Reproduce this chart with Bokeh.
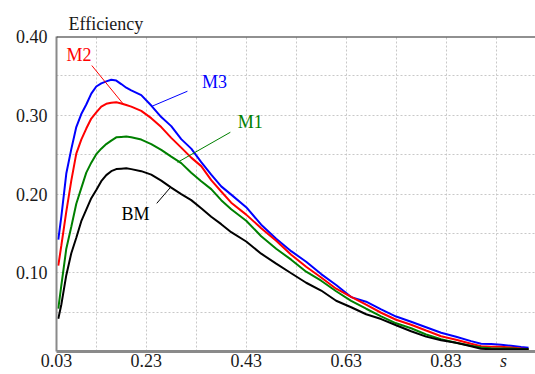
from bokeh.plotting import figure
from bokeh.models import Range1d, FixedTicker, Span, Label, LinearAxis
from bokeh.embed import file_html
from bokeh.resources import INLINE

# slip values shared by all four efficiency curves
s = [0.054, 0.06, 0.07, 0.08, 0.09, 0.10, 0.11, 0.12, 0.13, 0.14, 0.15, 0.16,
     0.17, 0.18, 0.19, 0.20, 0.22, 0.24, 0.26, 0.28, 0.30, 0.32, 0.34, 0.36,
     0.38, 0.40, 0.43, 0.46, 0.49, 0.52, 0.55, 0.58, 0.61, 0.64, 0.67, 0.70,
     0.73, 0.76, 0.79, 0.82, 0.85, 0.88, 0.90, 0.92, 0.94, 0.96, 0.98, 0.995]

eff_m3 = [0.142, 0.171, 0.226, 0.257, 0.285, 0.3015, 0.3136, 0.3275, 0.3365, 0.3405,
          0.343, 0.345, 0.344, 0.3396, 0.335, 0.3316, 0.3256, 0.3123, 0.2977, 0.2862,
          0.2697, 0.2576, 0.2405, 0.2246, 0.2097, 0.1992, 0.1833, 0.161, 0.1432, 0.1274,
          0.114, 0.0983, 0.0845, 0.0691, 0.0632, 0.0534, 0.0444, 0.0378, 0.0308, 0.0238,
          0.0187, 0.0132, 0.0098, 0.0094, 0.0085, 0.0072, 0.0057, 0.0047]

eff_m2 = [0.109, 0.1343, 0.1776, 0.217, 0.2513, 0.2691, 0.2831, 0.2958, 0.3036, 0.311,
          0.3145, 0.3159, 0.3165, 0.315, 0.313, 0.311, 0.3056, 0.2963, 0.285, 0.2713,
          0.2589, 0.2462, 0.2354, 0.2176, 0.2032, 0.189, 0.1738, 0.1566, 0.1407, 0.1229,
          0.1077, 0.0939, 0.0797, 0.0695, 0.0594, 0.0492, 0.0403, 0.0339, 0.0266, 0.0194,
          0.0149, 0.0098, 0.0066, 0.006, 0.006, 0.0051, 0.0037, 0.003]

eff_m1 = [0.0543, 0.0835, 0.1305, 0.1585, 0.1877, 0.2074, 0.2271, 0.2398, 0.2506, 0.2576,
          0.2634, 0.2678, 0.272, 0.2725, 0.2729, 0.2721, 0.2691, 0.2634, 0.2561, 0.2475,
          0.2392, 0.2271, 0.2163, 0.2062, 0.1922, 0.1807, 0.1661, 0.1464, 0.1305, 0.1166,
          0.1013, 0.0899, 0.0765, 0.0644, 0.0543, 0.0447, 0.0358, 0.0295, 0.0216, 0.0156,
          0.0111, 0.0072, 0.0052, 0.0042, 0.0039, 0.0037, 0.0033, 0.003]

eff_bm = [0.0416, 0.0594, 0.0969, 0.1248, 0.1445, 0.1655, 0.1801, 0.1947, 0.2051, 0.2163,
          0.224, 0.229, 0.2316, 0.2322, 0.2326, 0.2316, 0.229, 0.2246, 0.217, 0.2081,
          0.1998, 0.1922, 0.182, 0.1712, 0.1617, 0.1515, 0.1397, 0.1242, 0.1115, 0.0994,
          0.0873, 0.0774, 0.0644, 0.0562, 0.0473, 0.0412, 0.0333, 0.0257, 0.0189, 0.0142,
          0.0111, 0.0066, 0.0034, 0.003, 0.003, 0.003, 0.003, 0.003]

series_names = ["M3", "M2", "M1", "BM"]
series_colors = ["#0000ff", "#ff0000", "#008000", "#000000"]

# curve labels: text position, then leader line start and end
label_pos = [(0.3668, 0.3419), (0.0953, 0.3771), (0.4379, 0.2911), (0.2084, 0.1746)]
leader_from = [(0.3124, 0.3305), (0.1211, 0.3631), (0.3983, 0.2784), (0.2510, 0.1881)]
leader_to = [(0.2399, 0.3110), (0.1837, 0.3145), (0.2926, 0.2402), (0.2775, 0.2077)]

x_ticks = [0.0504, 0.23, 0.43, 0.63, 0.83]
x_tick_labels = ["0.03", "0.23", "0.43", "0.63", "0.83"]
x_symbol_pos = 0.9449
x_grid = [0.13, 0.23, 0.33, 0.43, 0.53, 0.63, 0.73, 0.83, 0.93]
y_ticks = [0.10, 0.20, 0.30, 0.40]
y_tick_labels = ["0.10", "0.20", "0.30", "0.40"]
y_grid = [0.05, 0.10, 0.15, 0.20, 0.25, 0.30, 0.35]

FONT = "Liberation Serif"

p = figure(width=535, height=374, output_backend="svg", toolbar_location=None,
           x_range=Range1d(0.0504, 1.0089), y_range=Range1d(0.0, 0.4),
           min_border_left=56, min_border_right=0, min_border_top=36,
           min_border_bottom=23, title="Efficiency")
p.outline_line_color = None
p.background_fill_color = "white"
p.border_fill_color = "white"

# y-axis title drawn as the plot title, left-aligned over the axis
p.title.align = "left"
p.title.offset = 12
p.title.standoff = 6
p.title.text_font = FONT
p.title.text_font_size = "18px"
p.title.text_font_style = "normal"
p.title.text_color = "#1a1a1a"

# grid
p.xgrid.ticker = FixedTicker(ticks=x_grid)
p.ygrid.ticker = FixedTicker(ticks=y_grid)
for g in (p.xgrid, p.ygrid):
    g.grid_line_color = "#c8c8c8"
    g.grid_line_dash = "2 2"
    g.grid_line_width = 1

# axes
p.xaxis.ticker = FixedTicker(ticks=x_ticks)
p.xaxis.major_label_overrides = dict(zip(x_ticks, x_tick_labels))
p.yaxis.ticker = FixedTicker(ticks=y_ticks)
p.yaxis.major_label_overrides = dict(zip(y_ticks, y_tick_labels))
for ax in (p.xaxis, p.yaxis):
    ax.major_tick_line_color = None
    ax.minor_tick_line_color = None
    ax.major_tick_out = 0
    ax.major_tick_in = 0
    ax.axis_line_color = "#8a8a8a"
    ax.major_label_text_font = FONT
    ax.major_label_text_font_size = "18px"
    ax.major_label_text_color = "#1a1a1a"
p.xaxis.axis_line_width = 3
p.yaxis.axis_line_width = 2
p.xaxis.major_label_standoff = 2
p.yaxis.major_label_standoff = 9

# italic axis symbol "s" tucked under the right end of the x axis
sym_axis = LinearAxis(ticker=FixedTicker(ticks=[x_symbol_pos]),
                      major_label_overrides={x_symbol_pos: "s"},
                      axis_line_color=None, major_tick_line_color=None,
                      minor_tick_line_color=None, major_tick_out=0, major_tick_in=0,
                      major_label_standoff=-19,
                      major_label_text_font=FONT, major_label_text_font_style="italic",
                      major_label_text_font_size="18px",
                      major_label_text_color="#1a1a1a")
p.add_layout(sym_axis, "below")

# top border of the plot area
p.add_layout(Span(location=0.4, dimension="width", line_color="#222222", line_width=2))

# efficiency curves
series_values = [eff_m3, eff_m2, eff_m1, eff_bm]
for vals, col in zip(series_values, series_colors):
    p.line(s, vals, line_color=col, line_width=2)

# curve labels with leader lines
for name, col, (tx, ty), (x0, y0), (x1, y1) in zip(series_names, series_colors,
                                                    label_pos, leader_from, leader_to):
    p.segment(x0=[x0], y0=[y0], x1=[x1], y1=[y1], line_color=col, line_width=1)
    p.add_layout(Label(x=tx, y=ty, text=name, text_color=col, text_font=FONT,
                       text_font_size="18px", text_align="center",
                       text_baseline="middle"))

open("out.html", "w").write(file_html(p, INLINE))
